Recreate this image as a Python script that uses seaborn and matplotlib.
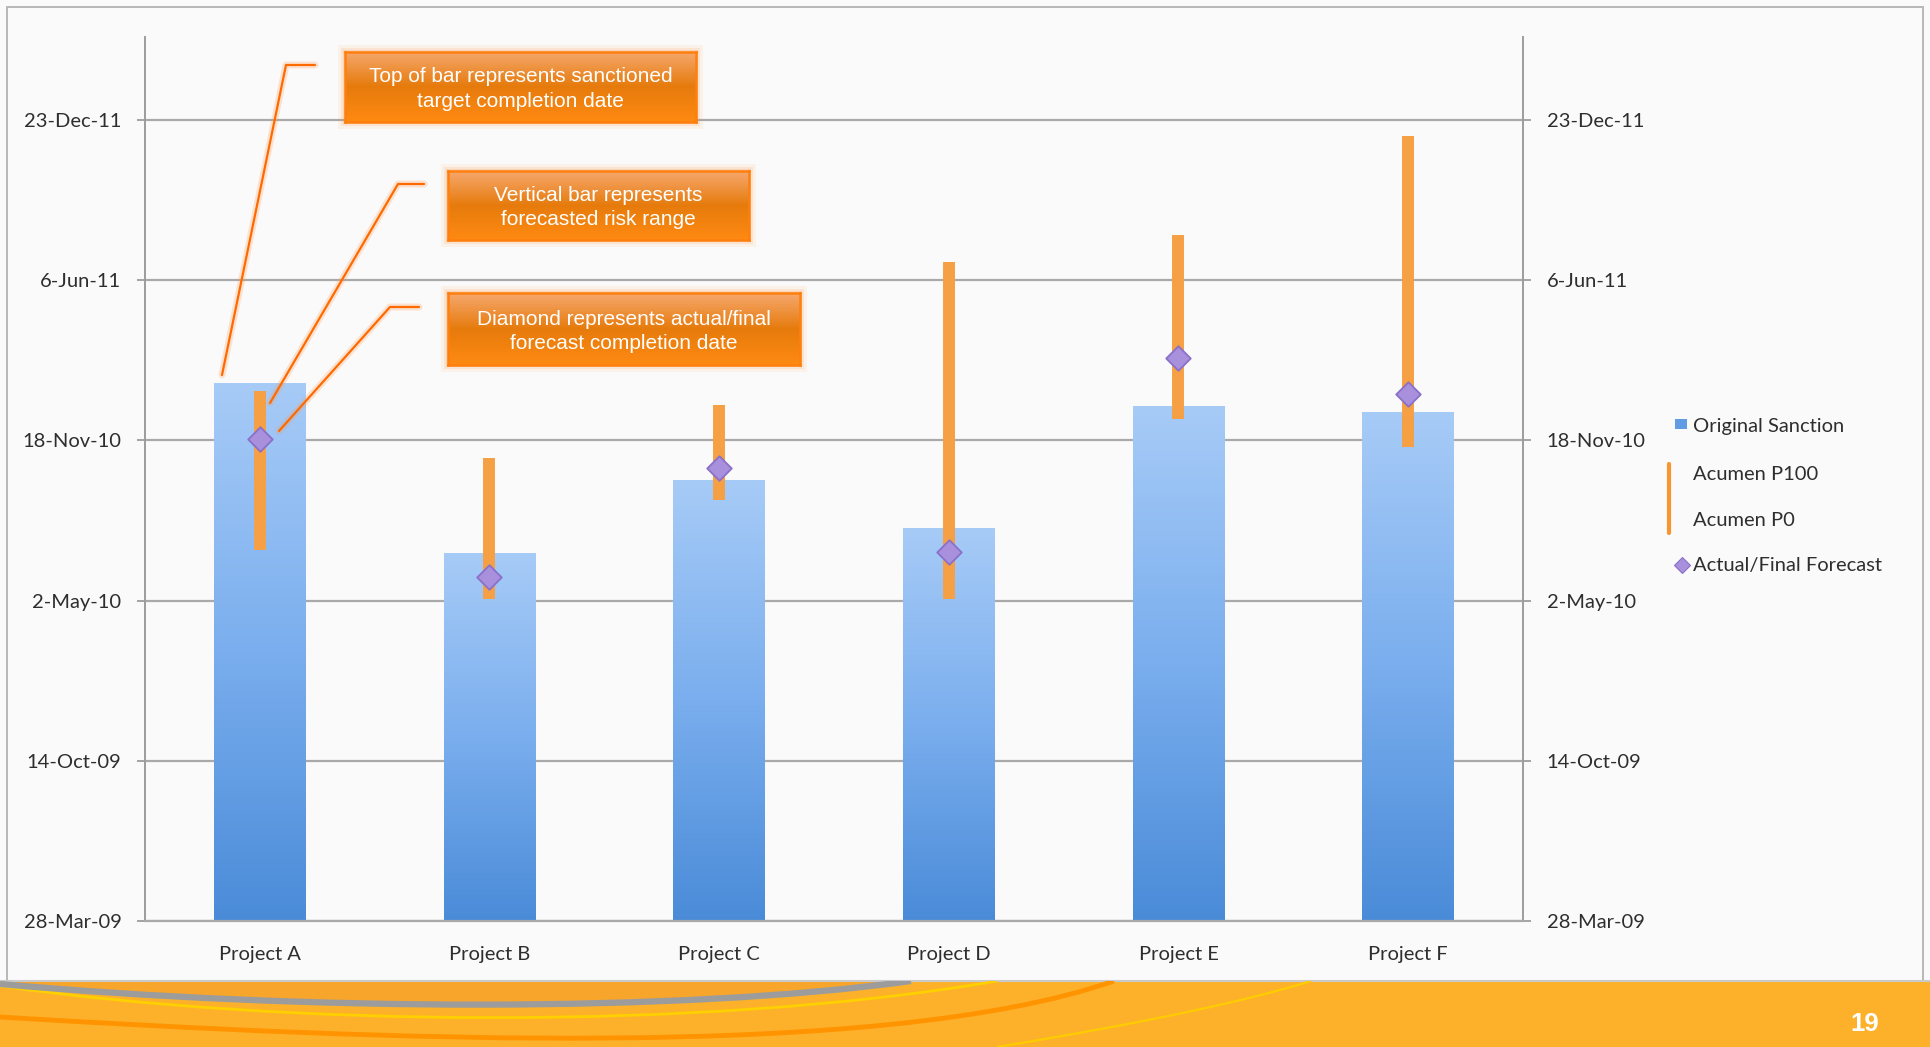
import datetime as dt

import numpy as np
import pandas as pd
import matplotlib
matplotlib.use("Agg")
import matplotlib.pyplot as plt
import matplotlib.dates as mdates
import matplotlib.patheffects as pe
from matplotlib.colors import LinearSegmentedColormap
from matplotlib.lines import Line2D
from matplotlib.patches import Rectangle, PathPatch
from matplotlib.path import Path
import seaborn as sns

# ---------------------------------------------------------------- data
projects = ["Project A", "Project B", "Project C", "Project D", "Project E", "Project F"]
original_sanction = ["28-Jan-11", "30-Jun-10", "30-Sep-10", "31-Jul-10", "31-Dec-10", "23-Dec-10"]
acumen_p100 = ["19-Jan-11", "27-Oct-10", "1-Jan-11", "28-Jun-11", "1-Aug-11", "2-Dec-11"]
acumen_p0 = ["4-Jul-10", "4-May-10", "5-Sep-10", "4-May-10", "15-Dec-10", "9-Nov-10"]
actual_final = ["20-Nov-10", "31-May-10", "14-Oct-10", "2-Jul-10", "1-Mar-11", "15-Jan-11"]
date_ticks = ["28-Mar-09", "14-Oct-09", "2-May-10", "18-Nov-10", "6-Jun-11", "23-Dec-11"]

callouts = [
    "Top of bar represents sanctioned\ntarget completion date",
    "Vertical bar represents\nforecasted risk range",
    "Diamond represents actual/final\nforecast completion date",
]
legend_labels = ["Original Sanction", "Acumen P100", "Acumen P0", "Actual/Final Forecast"]
page_number = "19"


def to_num(s):
    return mdates.date2num(dt.datetime.strptime(s, "%d-%b-%y"))


df = pd.DataFrame({
    "project": projects,
    "sanction": [to_num(s) for s in original_sanction],
    "p100": [to_num(s) for s in acumen_p100],
    "p0": [to_num(s) for s in acumen_p0],
    "final": [to_num(s) for s in actual_final],
})
tick_nums = [to_num(s) for s in date_ticks]

# ---------------------------------------------------------------- style
sns.set_style("white")
plt.rcParams["font.family"] = ["Lato", "DejaVu Sans"]

W, H = 1931, 1047


def fx(px):
    return px / W


def fy(py):
    return 1 - py / H


TEXT = "#2e2e2e"
GRID = "#a9a9a9"
AXIS = "#9c9c9c"
RANGE = "#f5a045"
DIAMOND = "#a890dc"
DIAMOND_EDGE = "#8a70c8"

fig = plt.figure(figsize=(W / 100, H / 100), dpi=100, facecolor="#fafafa")

# slide frame and bottom banner
fig.add_artist(Rectangle((fx(7), fy(981)), fx(1923) - fx(7), fy(7) - fy(981),
                         transform=fig.transFigure, fill=False,
                         edgecolor="#b8b8b8", lw=1.4, zorder=0))
banner = Rectangle((0, 0), 1, fy(981), transform=fig.transFigure,
                   facecolor="#fdb12b", edgecolor="none", zorder=1)
fig.add_artist(banner)
fig.add_artist(Line2D([0, 1], [fy(981), fy(981)], transform=fig.transFigure,
                      color="#c9c9c9", lw=1.5, zorder=2))


def banner_curve(pts, color, lw, z=2, fill=False):
    verts = [(fx(x), fy(y)) for x, y in pts]
    codes = [Path.MOVETO] + [Path.CURVE4] * (len(verts) - 1)
    if fill:
        verts.append(verts[0])
        codes.append(Path.CLOSEPOLY)
    patch = PathPatch(Path(verts, codes), transform=fig.transFigure,
                      facecolor=color if fill else "none",
                      edgecolor="none" if fill else color, lw=lw, zorder=z)
    patch.set_clip_path(banner)
    fig.add_artist(patch)


banner_curve([(0, 982), (0, 982), (300, 982), (911, 982),
              (700, 1010), (300, 1010), (0, 984)], "#f8a52c", 0, z=2, fill=True)
banner_curve([(0, 986), (280, 1026), (700, 1032), (997, 981)], "#ffd000", 2.0)
banner_curve([(0, 984), (300, 1011), (680, 1013), (911, 981)], "#9c9c9c", 4.5)
banner_curve([(0, 1017), (380, 1040), (880, 1062), (1114, 981)], "#ff9400", 3.5)
banner_curve([(997, 1047), (1150, 1022), (1250, 1000), (1311, 981)], "#ffcc00", 1.6)

fig.text(fx(1865), fy(1024), page_number, color="white", fontsize=18.5,
         fontweight="bold", family=["Liberation Sans", "DejaVu Sans"],
         ha="center", va="center", zorder=3)

# ---------------------------------------------------------------- chart
ax = fig.add_axes([fx(145), fy(921.2), fx(1523) - fx(145), fy(37) - fy(921.2)])
ax.set_facecolor("none")

sns.barplot(data=df, x="project", y="sanction", ax=ax, width=0.40,
            color="#6aa4e8", saturation=1, errorbar=None, zorder=2)

ymin = tick_nums[0]
ymax = tick_nums[0] + 1103
bar_cmap = LinearSegmentedColormap.from_list("bar", ["#4a8bd8", "#7aaeee", "#a7cbf7"])
grad = np.linspace(0, 1, 256).reshape(-1, 1)
for patch in list(ax.patches):
    x0 = patch.get_x()
    w = patch.get_width()
    top = patch.get_y() + patch.get_height()
    patch.set_facecolor("none")
    patch.set_edgecolor("none")
    im = ax.imshow(grad, extent=[x0, x0 + w, ymin, top], origin="lower",
                   aspect="auto", cmap=bar_cmap, zorder=2, interpolation="bilinear")
    im.set_clip_path(patch)

# forecast risk range P0 -> P100
ax.vlines(np.arange(len(projects)), df["p0"], df["p100"], color=RANGE,
          lw=8.6, zorder=3, capstyle="butt")

# actual / final forecast
sns.stripplot(data=df, x="project", y="final", ax=ax, jitter=False, marker="D",
              size=12.5, color=DIAMOND, edgecolor=DIAMOND_EDGE, linewidth=1.3,
              zorder=4)

ax.set_xlim(-0.5, len(projects) - 0.5)
ax.set_ylim(ymin, ymax)
ax.set_xlabel("")
ax.set_ylabel("")

ax.set_axisbelow(True)
ax.yaxis.grid(True, color=GRID, lw=1.6)
ax.xaxis.grid(False)
ax.set_yticks(tick_nums)
ax.set_yticklabels(date_ticks)
ax.tick_params(axis="y", which="major", left=True, right=True, labelleft=True,
               labelright=True, length=6, width=1.3, color=AXIS, pad=11,
               labelsize=14.5, labelcolor=TEXT)
ax.set_xticks(np.arange(len(projects)))
ax.set_xticklabels(projects)
ax.set_xticks(np.arange(len(projects) - 1) + 0.5, minor=True)
ax.tick_params(axis="x", which="major", length=0, pad=18, labelsize=14.5,
               labelcolor=TEXT)
ax.tick_params(axis="x", which="minor", length=5, width=1.2, color=AXIS)

for side in ("left", "right"):
    ax.spines[side].set_visible(True)
    ax.spines[side].set_color(AXIS)
    ax.spines[side].set_linewidth(1.4)
ax.spines["top"].set_visible(False)
ax.spines["bottom"].set_color(GRID)
ax.spines["bottom"].set_linewidth(1.6)

# ---------------------------------------------------------------- callouts
box_cmap = LinearSegmentedColormap.from_list(
    "box", [(0.0, "#ff8a12"), (0.5, "#e67b0c"), (1.0, "#f6a86e")])
boxes = [(345, 52, 696, 122), (448, 171, 749, 240), (448, 293, 800, 365)]
for (x0, y0, x1, y1), label in zip(boxes, callouts):
    for grow, alpha in ((7, 0.08), (4, 0.12), (2, 0.18)):
        fig.add_artist(Rectangle((fx(x0 - grow), fy(y1 + grow)),
                                 fx(x1 - x0 + 2 * grow), (y1 - y0 + 2 * grow) / H,
                                 transform=fig.transFigure, facecolor="#ff8a2a",
                                 edgecolor="none", alpha=alpha, zorder=5))
    bax = fig.add_axes([fx(x0), fy(y1), fx(x1 - x0), (y1 - y0) / H], zorder=6)
    bax.imshow(grad, origin="lower", aspect="auto", cmap=box_cmap,
               extent=[0, 1, 0, 1], interpolation="bilinear")
    bax.set_xlim(0, 1)
    bax.set_ylim(0, 1)
    bax.set_xticks([])
    bax.set_yticks([])
    for sp in bax.spines.values():
        sp.set_color("#ff7f0e")
        sp.set_linewidth(1.8)
    bax.text(0.5, 0.47, label, color="white", fontsize=15, ha="center",
             va="center", linespacing=1.35,
             family=["Liberation Sans", "DejaVu Sans"])

leaders = [
    [(315, 65), (286, 65), (222, 375)],
    [(424, 184), (398, 184), (270, 403)],
    [(419, 307), (390, 307), (279, 431)],
]
for pts in leaders:
    fig.add_artist(Line2D([fx(p[0]) for p in pts], [fy(p[1]) for p in pts],
                          transform=fig.transFigure, color="#ff6a00", lw=1.6,
                          zorder=7,
                          path_effects=[pe.Stroke(linewidth=5, foreground="#ff9a50",
                                                  alpha=0.25), pe.Normal()]))

# ---------------------------------------------------------------- legend
fig.add_artist(Rectangle((fx(1675), fy(429)), fx(12), 10 / H,
                         transform=fig.transFigure, facecolor="#5f9ce4",
                         edgecolor="none", zorder=5))
fig.add_artist(Line2D([fx(1669), fx(1669)], [fy(464), fy(533)],
                      transform=fig.transFigure, color="#f7962f", lw=3, zorder=5))
fig.add_artist(Line2D([fx(1682)], [fy(565)], transform=fig.transFigure,
                      marker="D", ms=8, color=DIAMOND, mec=DIAMOND_EDGE,
                      mew=0.8, lw=0, zorder=5))
for label, py in zip(legend_labels, [426, 474, 521, 566]):
    fig.text(fx(1693), fy(py), label, color=TEXT, fontsize=14.5, ha="left",
             va="center", zorder=5)

fig.savefig("out.png", dpi=100, facecolor=fig.get_facecolor())
